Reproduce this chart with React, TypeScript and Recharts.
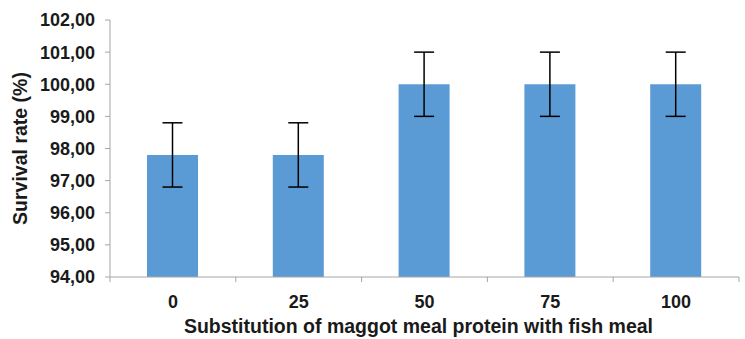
import React from 'react';
import { BarChart, Bar, XAxis, YAxis, ErrorBar } from 'recharts';

const levels = ['0', '25', '50', '75', '100'];
const survival = [97.8, 97.8, 100, 100, 100];
const sd = [1, 1, 1, 1, 1];
const yTicks = [94, 95, 96, 97, 98, 99, 100, 101, 102];

const data = levels.map((name, i) => ({ name, value: survival[i], err: sd[i] }));

const font = 'Arial, "Liberation Sans", sans-serif';
const axisGray = '#A6A6A6';
const textColor = '#1a1a1a';

const XTick = (props: any) => {
  const { x, y, payload, index, width } = props;
  const half = width / levels.length / 2;
  const top = y - 8;
  return (
    <g>
      <line x1={x - half} y1={top} x2={x - half} y2={top + 5} stroke={axisGray} />
      {index === levels.length - 1 && (
        <line x1={x + half} y1={top} x2={x + half} y2={top + 5} stroke={axisGray} />
      )}
      <text x={x} y={y + 23} textAnchor="middle" fontFamily={font} fontWeight="bold" fontSize={18} fill={textColor}>
        {payload.value}
      </text>
    </g>
  );
};

export default function App() {
  return (
    <div style={{ position: 'absolute', left: 0, top: 0, background: '#fff' }}>
      <BarChart width={745} height={339} data={data} margin={{ top: 20, right: 6, bottom: 0, left: 0 }}>
        <XAxis
          dataKey="name"
          height={62}
          stroke={axisGray}
          tickLine={false}
          tick={<XTick />}
          label={{
            value: 'Substitution of maggot meal protein with fish meal',
            position: 'insideBottom',
            offset: 6,
            dx: -6,
            style: { fontFamily: font, fontWeight: 'bold', fontSize: 19.5, fill: textColor },
          }}
        />
        <YAxis
          width={110}
          domain={[94, 102]}
          ticks={yTicks}
          interval={0}
          allowDataOverflow
          stroke={axisGray}
          tickSize={5}
          tickMargin={10}
          tickFormatter={(v: number) => v.toFixed(2).replace('.', ',')}
          tick={{ fontFamily: font, fontWeight: 'bold', fontSize: 18, fill: textColor }}
          label={{
            value: 'Survival rate (%)',
            angle: -90,
            position: 'insideLeft',
            offset: 20,
            style: { textAnchor: 'middle', fontFamily: font, fontWeight: 'bold', fontSize: 19.5, fill: textColor },
          }}
        />
        <Bar dataKey="value" fill="#5B9BD5" barSize={51} isAnimationActive={false}>
          <ErrorBar dataKey="err" width={10} stroke="#000" strokeWidth={1.5} />
        </Bar>
      </BarChart>
    </div>
  );
}
